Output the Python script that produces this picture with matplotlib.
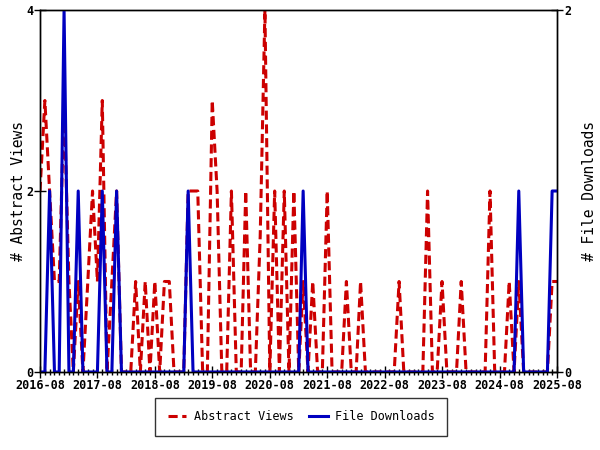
import numpy as np
import pandas as pd
import matplotlib
matplotlib.use("Agg")
import matplotlib.pyplot as plt
import matplotlib.dates as mdates

# monthly counts, 2016-08 .. 2025-08
months = pd.date_range("2016-08-01", "2025-08-01", freq="MS")

abstract_views = [
    2, 3, 2, 1, 1, 3, 1, 0, 1, 0,        # 2016-08 .. 2017-05
    1, 2, 1, 3, 0, 1, 2, 0, 0, 0,        # 2017-06 .. 2018-03
    1, 0, 1, 0, 1, 0, 1, 1, 0, 0,        # 2018-04 .. 2019-01
    0, 2, 2, 2, 0, 0, 3, 2, 0, 0,        # 2019-02 .. 2019-11
    2, 0, 0, 2, 0, 0, 1.5, 4, 0, 2,      # 2019-12 .. 2020-09
    0, 2, 0, 2, 0, 1, 0, 1, 0, 0,        # 2020-10 .. 2021-07
    2, 0, 0, 0, 1, 0, 0, 1, 0, 0,        # 2021-08 .. 2022-05
    0, 0, 0, 0, 0, 1, 0, 0, 0, 0,        # 2022-06 .. 2023-03
    0, 2, 0, 0, 1, 0, 0, 0, 1, 0,        # 2023-04 .. 2024-01
    0, 0, 0, 0, 2, 0, 0, 0, 1, 0,        # 2024-02 .. 2024-11
    1, 0, 0, 0, 0, 0, 0, 1, 1,           # 2024-12 .. 2025-08
]

file_downloads = [
    0, 0, 1, 0, 0, 2, 0, 0, 1, 0,
    0, 0, 0, 1, 0, 0, 1, 0, 0, 0,
    0, 0, 0, 0, 0, 0, 0, 0, 0, 0,
    0, 1, 0, 0, 0, 0, 0, 0, 0, 0,
    0, 0, 0, 0, 0, 0, 0, 0, 0, 0,
    0, 0, 0, 0, 0, 1, 0, 0, 0, 0,
    0, 0, 0, 0, 0, 0, 0, 0, 0, 0,
    0, 0, 0, 0, 0, 0, 0, 0, 0, 0,
    0, 0, 0, 0, 0, 0, 0, 0, 0, 0,
    0, 0, 0, 0, 0, 0, 0, 0, 0, 0,
    1, 0, 0, 0, 0, 0, 0, 1, 1,
]

RED = "#cc0000"
BLUE = "#0000c0"
MONO = "DejaVu Sans Mono"

fig = plt.figure(figsize=(6, 4.5), dpi=100)
ax1 = fig.add_axes([40/600, 1 - 372/450, 517/600, 362/450])
ax2 = ax1.twinx()

l1, = ax1.plot(months, abstract_views, color=RED, lw=2.2, linestyle=(0, (3, 1.5)),
               label="Abstract Views")
l2, = ax2.plot(months, file_downloads, color=BLUE, lw=2.2, label="File Downloads")

ax1.set_xlim(months[0], months[-1])
ax1.set_ylim(0, 4)
ax2.set_ylim(0, 2)
ax1.set_yticks([0, 2, 4])
ax2.set_yticks([0, 2])

ax1.xaxis.set_major_locator(mdates.YearLocator(month=8))
ax1.xaxis.set_major_formatter(mdates.DateFormatter("%Y-%m"))
ax1.xaxis.set_minor_locator(mdates.MonthLocator())

for ax in (ax1, ax2):
    ax.tick_params(axis="both", which="major", direction="inout", length=8, width=1,
                   labelsize=8.5, pad=1)
    ax.tick_params(axis="x", which="minor", direction="inout", length=5, width=1)
    for lab in ax.get_xticklabels() + ax.get_yticklabels():
        lab.set_fontfamily(MONO)
        lab.set_fontweight("bold")
    for s in ax.spines.values():
        s.set_linewidth(1)

ax1.set_ylabel("# Abstract Views", family=MONO, fontsize=10.5, labelpad=0)
ax2.set_ylabel("# File Downloads", family=MONO, fontsize=10.5, labelpad=8,
               rotation=90)

leg = fig.legend(handles=[l1, l2], loc="center", bbox_to_anchor=(301/600, 1 - 417/450),
                 ncol=2, frameon=True, fancybox=False, edgecolor="black",
                 prop={"family": MONO, "size": 8.5}, handlelength=1.6,
                 handletextpad=0.6, borderpad=1.1, borderaxespad=0,
                 columnspacing=1.3)
leg.get_frame().set_linewidth(1)

fig.savefig("out.png", dpi=100)
